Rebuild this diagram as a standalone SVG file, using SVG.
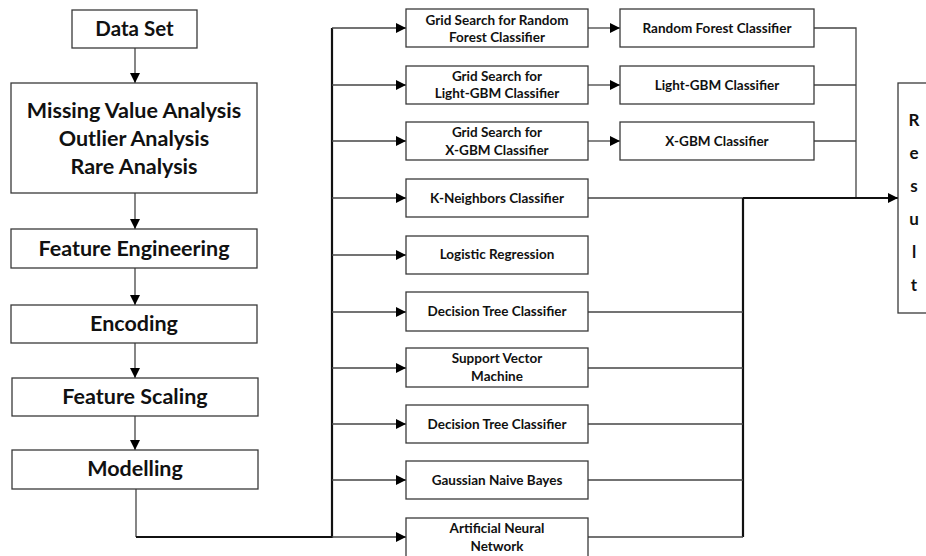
<svg xmlns="http://www.w3.org/2000/svg" width="926" height="556" viewBox="0 0 926 556">
<defs>
<style>
.box{fill:#fff;stroke:#3a3a3a;stroke-width:1.3}
.big{font-family:Lato,"Open Sans","Liberation Sans",sans-serif;font-weight:bold;font-size:21.5px;fill:#111;text-anchor:middle}
.sm{font-family:Lato,"Open Sans","Liberation Sans",sans-serif;font-weight:bold;font-size:13.5px;fill:#111;text-anchor:middle}
.res{font-family:Lato,"Open Sans","Liberation Sans",sans-serif;font-weight:bold;font-size:17px;fill:#111;text-anchor:middle}
.ln{fill:none;stroke:#444;stroke-width:1.3}
.thick{fill:none;stroke:#111;stroke-width:2.2}
</style>
<marker id="ah" viewBox="0 0 10 10" refX="10" refY="5" markerWidth="11" markerHeight="10" markerUnits="userSpaceOnUse" orient="auto">
<path d="M0,0 L10,5 L0,10 Z" fill="#000"/>
</marker>
</defs>

<g id="connectors">
<path class="ln" d="M135,48 V83" marker-end="url(#ah)"/>
<path class="ln" d="M135,193 V229" marker-end="url(#ah)"/>
<path class="ln" d="M135,268 V305" marker-end="url(#ah)"/>
<path class="ln" d="M135,343 V378" marker-end="url(#ah)"/>
<path class="ln" d="M135,416 V450" marker-end="url(#ah)"/>
<path class="ln" d="M136,489 V537"/>
<path class="thick" d="M136,537 H332 V28"/>
<path class="ln" d="M332,28 H406" marker-end="url(#ah)"/>
<path class="ln" d="M332,85 H406" marker-end="url(#ah)"/>
<path class="ln" d="M332,141 H406" marker-end="url(#ah)"/>
<path class="ln" d="M332,198 H406" marker-end="url(#ah)"/>
<path class="ln" d="M332,255 H406" marker-end="url(#ah)"/>
<path class="ln" d="M332,312 H406" marker-end="url(#ah)"/>
<path class="ln" d="M332,368 H406" marker-end="url(#ah)"/>
<path class="ln" d="M332,424 H406" marker-end="url(#ah)"/>
<path class="ln" d="M332,480 H406" marker-end="url(#ah)"/>
<path class="ln" d="M332,537 H406" marker-end="url(#ah)"/>
<path class="ln" d="M588,28 H620" marker-end="url(#ah)"/>
<path class="ln" d="M588,85 H620" marker-end="url(#ah)"/>
<path class="ln" d="M588,141 H620" marker-end="url(#ah)"/>
<path class="ln" d="M814,28 H856 V198"/>
<path class="ln" d="M814,85 H856"/>
<path class="ln" d="M814,141 H856"/>
<path class="ln" d="M588,198 H743"/>
<path class="thick" d="M743,198 H898" marker-end="url(#ah)"/>
<path class="thick" d="M743,198 V537"/>
<path class="ln" d="M588,312 H743"/>
<path class="ln" d="M588,368 H743"/>
<path class="ln" d="M588,424 H743"/>
<path class="ln" d="M588,480 H743"/>
<path class="ln" d="M588,537 H743"/>
</g>

<g id="dataset"><rect class="box" x="72" y="10" width="125" height="38"/><text class="big" x="134.5" y="36" style="font-size:20.5px">Data Set</text></g>
<g id="analysis"><rect class="box" x="11" y="83" width="246" height="110"/>
<text class="big" x="134" y="118">Missing Value Analysis</text>
<text class="big" x="134" y="146">Outlier Analysis</text>
<text class="big" x="134" y="174">Rare Analysis</text></g>
<g id="feature-engineering"><rect class="box" x="11" y="229" width="246" height="39"/><text class="big" x="134" y="256">Feature Engineering</text></g>
<g id="encoding"><rect class="box" x="11" y="305" width="246" height="38"/><text class="big" x="134" y="331">Encoding</text></g>
<g id="feature-scaling"><rect class="box" x="12" y="378" width="246" height="38"/><text class="big" x="135" y="404">Feature Scaling</text></g>
<g id="modelling"><rect class="box" x="12" y="450" width="246" height="39"/><text class="big" x="135" y="476">Modelling</text></g>

<g id="gs-rf"><rect class="box" x="406" y="9" width="182" height="38"/><text class="sm" x="497" y="25">Grid Search for Random</text><text class="sm" x="497" y="42">Forest Classifier</text></g>
<g id="gs-lgbm"><rect class="box" x="406" y="66" width="182" height="38"/><text class="sm" x="497" y="81">Grid Search for</text><text class="sm" x="497" y="98">Light-GBM Classifier</text></g>
<g id="gs-xgbm"><rect class="box" x="406" y="122" width="182" height="38"/><text class="sm" x="497" y="137">Grid Search for</text><text class="sm" x="497" y="155">X-GBM Classifier</text></g>
<g id="knn"><rect class="box" x="406" y="179" width="182" height="38"/><text class="sm" x="497" y="203">K-Neighbors Classifier</text></g>
<g id="logreg"><rect class="box" x="406" y="236" width="182" height="38"/><text class="sm" x="497" y="259">Logistic Regression</text></g>
<g id="dt1"><rect class="box" x="406" y="292" width="182" height="39"/><text class="sm" x="497" y="316">Decision Tree Classifier</text></g>
<g id="svm"><rect class="box" x="406" y="348" width="182" height="39"/><text class="sm" x="497" y="363">Support Vector</text><text class="sm" x="497" y="381">Machine</text></g>
<g id="dt2"><rect class="box" x="406" y="405" width="182" height="38"/><text class="sm" x="497" y="429">Decision Tree Classifier</text></g>
<g id="gnb"><rect class="box" x="406" y="461" width="182" height="38"/><text class="sm" x="497" y="485">Gaussian Naive Bayes</text></g>
<g id="ann"><rect class="box" x="406" y="518" width="182" height="44"/><text class="sm" x="497" y="533">Artificial Neural</text><text class="sm" x="497" y="551">Network</text></g>

<g id="rf"><rect class="box" x="620" y="9" width="194" height="38"/><text class="sm" x="717" y="33">Random Forest Classifier</text></g>
<g id="lgbm"><rect class="box" x="620" y="66" width="194" height="38"/><text class="sm" x="717" y="90">Light-GBM Classifier</text></g>
<g id="xgbm"><rect class="box" x="620" y="122" width="194" height="38"/><text class="sm" x="717" y="146">X-GBM Classifier</text></g>

<g id="result"><rect class="box" x="898" y="83" width="40" height="230"/>
<text class="res" x="914" y="126">R</text>
<text class="res" x="914" y="159">e</text>
<text class="res" x="914" y="192">s</text>
<text class="res" x="914" y="225">u</text>
<text class="res" x="914" y="258">l</text>
<text class="res" x="914" y="291">t</text></g>
</svg>
